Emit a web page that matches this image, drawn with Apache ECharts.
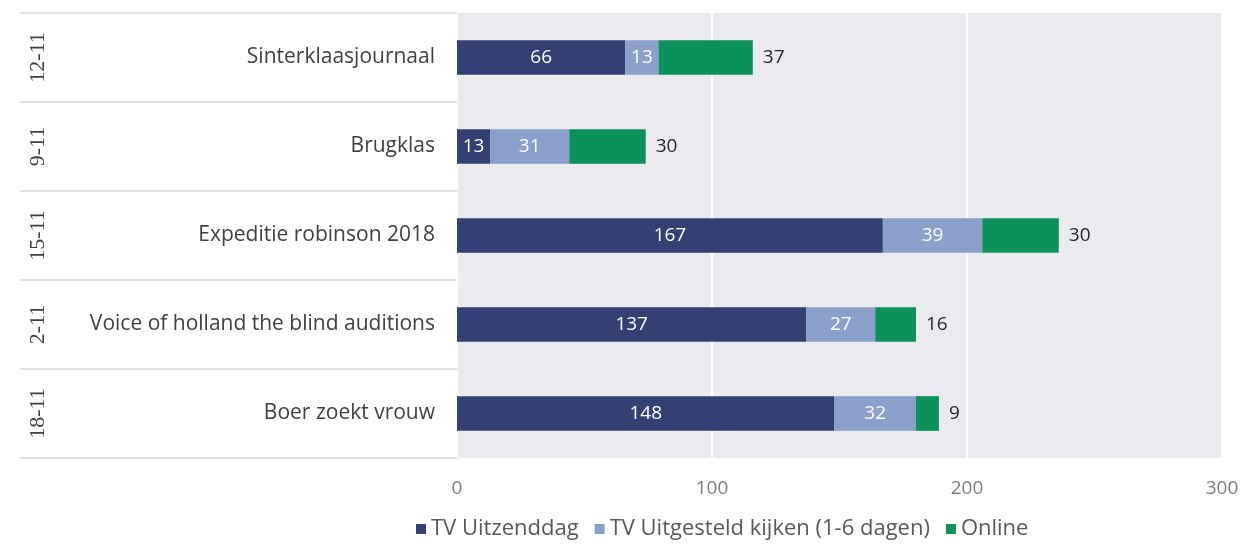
<!DOCTYPE html>
<html><head><meta charset="utf-8">
<script src="https://cdn.jsdelivr.net/npm/echarts@6/dist/echarts.min.js"></script>
<style>html,body{margin:0;padding:0;background:#fff}#c{width:1251px;height:547px}</style>
</head><body><div id="c"></div>
<script>
const programmes = ['Sinterklaasjournaal','Brugklas','Expeditie robinson 2018','Voice of holland the blind auditions','Boer zoekt vrouw'];
const dates = ['12-11','9-11','15-11','2-11','18-11'];
const tvUitzenddag = [66,13,167,137,148];
const tvUitgesteld = [13,31,39,27,32];
const online = [37,30,30,16,9];
const xTicks = [0,100,200,300];

const font = 'Open Sans';
const chart = echarts.init(document.getElementById('c'));
chart.setOption({
  animation:false,
  textStyle:{fontFamily:font},
  grid:{left:457,right:29,top:13,bottom:89,show:true,backgroundColor:'#ebebef',borderWidth:0},
  legend:{bottom:2,left:411,icon:'rect',itemWidth:10,itemHeight:10,itemGap:16,
    textStyle:{fontSize:22,color:'#595959',fontFamily:font},
    data:['TV Uitzenddag','TV Uitgesteld kijken (1-6 dagen)','Online']},
  xAxis:{type:'value',min:xTicks[0],max:xTicks[xTicks.length-1],interval:100,
    axisLine:{show:false},axisTick:{show:false},
    axisLabel:{fontSize:19,color:'#7f7f7f',margin:21},
    splitLine:{lineStyle:{color:'#ffffff',width:2}}},
  yAxis:[
    {type:'category',data:programmes,inverse:true,
      axisLine:{show:false},
      axisTick:{show:true,length:437,lineStyle:{color:'#d9d9d9',width:1.5}},
      axisLabel:{fontSize:21,color:'#404040',margin:22}},
    {type:'category',data:dates,inverse:true,position:'left',offset:400,
      axisLine:{show:false},axisTick:{show:false},
      axisLabel:{fontSize:22,color:'#404040',rotate:90,margin:8,fontFamily:'Liberation Serif'}}
  ],
  series:[
    {name:'TV Uitzenddag',type:'bar',stack:'a',data:tvUitzenddag,barWidth:'39%',
      itemStyle:{color:'#343f73'},
      label:{show:true,position:'inside',color:'#ffffff',fontSize:19}},
    {name:'TV Uitgesteld kijken (1-6 dagen)',type:'bar',stack:'a',data:tvUitgesteld,
      itemStyle:{color:'#8a9fca'},
      label:{show:true,position:'inside',color:'#ffffff',fontSize:19}},
    {name:'Online',type:'bar',stack:'a',data:online,
      itemStyle:{color:'#0d915b'},
      label:{show:true,position:'right',color:'#262626',fontSize:19,distance:10}}
  ]
});
</script></body></html>
